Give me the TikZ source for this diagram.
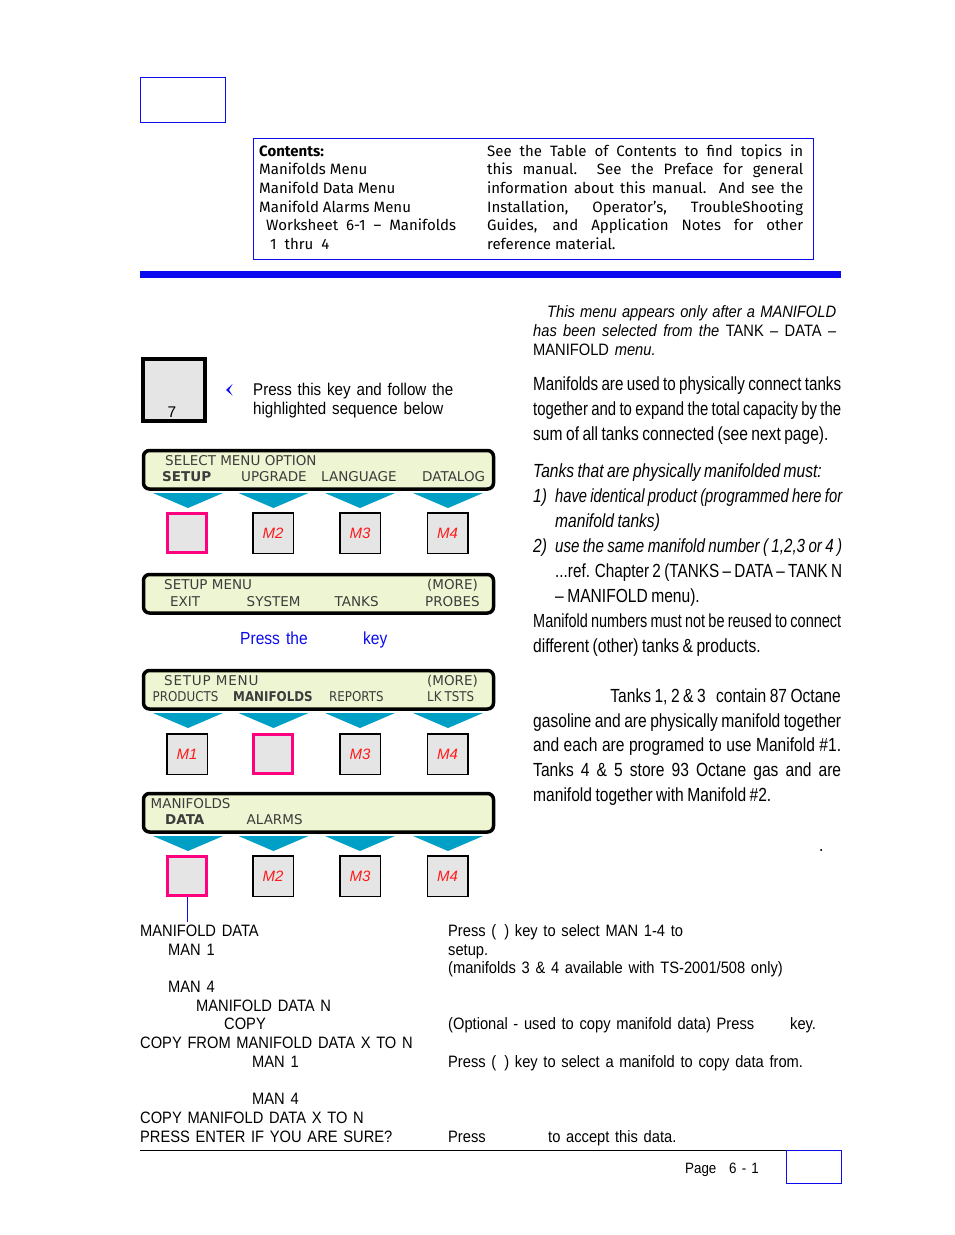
\documentclass[tikz,border=0pt]{standalone}
\usepackage{fontspec}
\setmainfont{Liberation Sans}
\newfontfamily\narrowfont[FakeStretch=0.89,WordSpace=1.4]{Liberation Sans}
\newfontfamily\parafont[FakeStretch=0.82,WordSpace=0.8]{Liberation Sans}
\newfontfamily\lcdfont{DejaVu Sans}
\newfontfamily\lcdnarrow[FakeStretch=0.88]{DejaVu Sans}
\newfontfamily\tocfont{Fira Sans}
\usetikzlibrary{positioning}
\newcommand\pxsize[1]{\fontsize{#1}{#1}\selectfont}
\newcommand\fitline[2]{\resizebox{#1}{\height}{#2}}
\definecolor{pageblue}{HTML}{0B0BEF}
\definecolor{lcdfill}{HTML}{EEF5D2}
\definecolor{lcdtext}{HTML}{3C3C3C}
\definecolor{chevcyan}{HTML}{00A0C6}
\definecolor{keygray}{HTML}{E5E5E5}
\definecolor{hotpink}{HTML}{FF0080}
\definecolor{mred}{HTML}{FF1A1A}
\tikzset{
  lcd/.style={draw=black, line width=3.5pt, rounded corners=6pt, fill=lcdfill,
              minimum width=350pt, minimum height=38.5pt, anchor=north west, inner sep=0pt},
  lcdtxt/.style={anchor=base west, inner sep=0pt, text=lcdtext, font=\lcdfont\pxsize{13.5}},
  keybox/.style={draw=black, line width=1.5pt, fill=keygray, minimum size=40.5pt,
                 inner sep=0pt, text=mred, font=\itshape\pxsize{15}},
  hotkey/.style={keybox, draw=hotpink, line width=3pt, minimum size=39pt},
  chevron/.style={fill=chevcyan},
  toc/.style={anchor=base west, inner sep=0pt, font=\tocfont\pxsize{15}},
  para/.style={anchor=base west, inner sep=0pt, font=\parafont\pxsize{19}},
  parait/.style={para, font=\parafont\itshape\pxsize{19}},
  codetxt/.style={anchor=base west, inner sep=0pt, font=\narrowfont\pxsize{16.5}},
  blueline/.style={draw=pageblue, line width=1pt}
}

\begin{document}
\begin{tikzpicture}[x=1pt, y=-1pt]
  \fill[white] (0,0) rectangle (954,1235);

  % header
  \draw[blueline] (140.5,77.5) rectangle (225,122);
  \draw[blueline] (253.5,138.5) rectangle (813.5,259.5);
  \node[toc, font=\tocfont\bfseries\pxsize{15}] (tochead) at (259,156) {Contents:};
  \foreach \x/\y/\t [count=\i] in {259/174.7/{Manifolds Menu}, 259/193.4/{Manifold Data Menu},
      259/212.1/{Manifold Alarms Menu}, 266/230.8/{Worksheet\ \ 6-1\ \ –\ \ Manifolds},
      270/249.5/{1\ \ thru\ \ 4}}
    \node[toc] (tocl\i) at (\x,\y) {\t};
  \foreach \y/\t [count=\i] in {156/{See the Table of Contents to find topics in},
      174.7/{this manual.\ \ See the Preface for general},
      193.4/{information about this manual.\ \ And see the},
      212.1/{Installation, Operator’s, TroubleShooting},
      230.8/{Guides, and Application Notes for other}}
    \node[toc] (tocr\i) at (487,\y) {\makebox[316pt][s]{\t}};
  \node[toc] (tocr6) at (487,249.5) {reference material.};
  \fill[pageblue] (140,270.5) rectangle (841,277.5);

  % start key
  \node[draw=black, line width=4pt, fill=keygray, minimum size=62pt, inner sep=0pt] (key7) at (174,390) {};
  \node[inner sep=0pt, font=\pxsize{15.5}] (seven) at (172,412) {7};
  \fill[pageblue] (232.5,384) -- (226,390) -- (232.5,395.5) -- (229,390) -- cycle;
  \node[codetxt, font=\narrowfont\pxsize{17}] (hint1) at (253,395) {Press this key and follow the};
  \node[codetxt, font=\narrowfont\pxsize{17}] (hint2) at (253,414) {highlighted sequence below};

  % menu displays
  \node[lcd] (lcd1) at (141.75,448.75) {};
  \node[lcdtxt] (sel) at (165,465) {SELECT MENU OPTION};
  \node[lcdtxt, font=\lcdfont\bfseries\pxsize{13.5}] (sel1) at (162,481) {SETUP};
  \node[lcdtxt] (sel2) at (241,481) {UPGRADE};
  \node[lcdtxt] (sel3) at (321,481) {LANGUAGE};
  \node[lcdtxt] (sel4) at (422,481) {DATALOG};

  \node[lcd] (lcd2) at (141.75,572.75) {};
  \node[lcdtxt] (setup) at (164,589) {SETUP MENU};
  \node[lcdtxt, anchor=base east] (more) at (478,589) {(MORE)};
  \node[lcdtxt] (set1) at (170,606) {EXIT};
  \node[lcdtxt] (set2) at (246.5,606) {SYSTEM};
  \node[lcdtxt] (set3) at (334.5,606) {TANKS};
  \node[lcdtxt] (set4) at (425,606) {PROBES};

  \node[codetxt, text=pageblue, font=\narrowfont\pxsize{17.5}] (pressthe) at (240,644) {Press the};
  \node[codetxt, text=pageblue, font=\narrowfont\pxsize{17.5}] (presskey) at (363,644) {key};

  \node[lcd] (lcd3) at (141.75,668.75) {};
  \node[lcdtxt, font=\lcdfont\addfontfeature{LetterSpace=6}\pxsize{13.5}] (setupb) at (164,685) {SETUP MENU};
  \node[lcdtxt, anchor=base east] (moreb) at (478,685) {(MORE)};
  \node[lcdtxt, font=\lcdnarrow\pxsize{13.5}] (prod1) at (152.5,701) {PRODUCTS};
  \node[lcdtxt, font=\lcdnarrow\bfseries\pxsize{13.5}] (prod2) at (233,701) {MANIFOLDS};
  \node[lcdtxt, font=\lcdnarrow\pxsize{13.5}] (prod3) at (329,701) {REPORTS};
  \node[lcdtxt, font=\lcdnarrow\pxsize{13.5}] (prod4) at (427,701) {LK\hspace{3pt}TSTS};

  \node[lcd] (lcd4) at (141.75,791.75) {};
  \node[lcdtxt] (mani) at (150.5,808) {MANIFOLDS};
  \node[lcdtxt, font=\lcdfont\bfseries\pxsize{13.5}] (mani1) at (165,824) {DATA};
  \node[lcdtxt] (mani2) at (246.5,824) {ALARMS};

  % soft keys under each display
  \foreach \y in {493,713,836}
    \foreach \x in {188,273.5,360,448}
      \fill[chevron] (\x-35,\y) -- (\x+35,\y) -- (\x,\y+15) -- cycle;
  \foreach \n/\x/\y/\sty/\lab in {
      11/187/533/hotkey/{}, 12/273/533/keybox/M2, 13/360/533/keybox/M3, 14/447.5/533/keybox/M4,
      21/187/754/keybox/M1, 22/273/754/hotkey/{}, 23/360/754/keybox/M3, 24/447.5/754/keybox/M4,
      31/187/876/hotkey/{}, 32/273/876/keybox/M2, 33/360/876/keybox/M3, 34/447.5/876/keybox/M4}
    \node[\sty] (k\n) at (\x,\y) {\lab};
  \coordinate (stemend) at (187,922);
  \draw[blueline] (k31.south) -- (stemend);

  % right column
  \node[codetxt, font=\narrowfont\pxsize{16.5}] (note1) at (547,317) {\makebox[289pt][s]{\itshape This menu appears only after a MANIFOLD}};
  \node[codetxt] (note2) at (533,336) {\makebox[303pt][s]{\itshape has been selected from the \upshape TANK – DATA –}};
  \node[codetxt] (note3) at (533,355) {MANIFOLD\ \itshape menu.};

  \node[para] (p1) at (533,390) {\fitline{308pt}{Manifolds are used to physically connect tanks}};
  \node[para] (p2) at (533,415) {\fitline{308pt}{together and to expand the total capacity by the}};
  \node[para] (p3) at (533,440) {sum of all tanks connected (see next page).};
  \node[parait] (m0) at (533,477) {Tanks that are physically manifolded must:};
  \node[parait] (m1n) at (533,502) {1)};
  \node[parait] (m1) at (555,502) {\fitline{287pt}{have identical product (programmed here for}};
  \node[parait] (m1b) at (555,527) {manifold tanks)};
  \node[parait] (m2n) at (533,552) {2)};
  \node[parait] (m2) at (555,552) {\fitline{287pt}{use the same manifold number ( 1,2,3 or 4 )}};
  \node[para] (m2b) at (555,577) {\fitline{287pt}{...ref. Chapter 2 (TANKS – DATA – TANK N}};
  \node[para] (m2c) at (555,602) {– MANIFOLD menu).};
  \node[para] (p4) at (533,627) {\fitline{308pt}{Manifold numbers must not be reused to connect}};
  \node[para] (p5) at (533,652) {different (other) tanks \& products.};

  \node[para, anchor=base east] (ex1) at (841,702) {Tanks 1, 2 \& 3\ \ \ contain 87 Octane};
  \node[para] (ex2) at (533,727) {\fitline{308pt}{gasoline and are physically manifold together}};
  \node[para] (ex3) at (533,751) {\makebox[308pt][s]{and each are programed to use Manifold \#1.}};
  \node[para] (ex4) at (533,776) {\makebox[308pt][s]{Tanks 4 \& 5 store 93 Octane gas and are}};
  \node[para] (ex5) at (533,801) {manifold together with Manifold \#2.};
  \node[para] (dot) at (819,851) {.};

  % menu tree and actions
  \foreach \x/\y/\t [count=\i] in {140/936/{MANIFOLD DATA}, 168/955/{MAN 1}, 168/992/{MAN 4},
      196/1011/{MANIFOLD DATA N}, 224/1029/{COPY}, 140/1048/{COPY FROM MANIFOLD DATA X TO N},
      252/1067/{MAN 1}, 252/1104/{MAN 4}, 140/1123/{COPY MANIFOLD DATA X TO N},
      140/1142/{PRESS ENTER IF YOU ARE SURE?}}
    \node[codetxt] (menu\i) at (\x,\y) {\t};
  \node[codetxt] (act1) at (448,936) {Press (\hspace{8pt}) key to select MAN 1-4 to};
  \node[codetxt] (act1b) at (448,955) {setup.};
  \node[codetxt] (act1c) at (448,973) {(manifolds 3 \& 4 available with TS-2001/508 only)};
  \node[codetxt] (act2) at (448,1029) {(Optional - used to copy manifold data) Press};
  \node[codetxt] (act2k) at (790,1029) {key.};
  \node[codetxt] (act3) at (448,1067) {Press (\hspace{8pt}) key to select a manifold to copy data from.};
  \node[codetxt] (act4) at (448,1142) {Press};
  \node[codetxt] (act4b) at (548,1142) {to accept this data.};

  % footer
  \draw[line width=1.2pt] (140,1150.5) -- (841,1150.5);
  \draw[blueline] (786.5,1150.5) rectangle (841,1183);
  \node[codetxt, font=\narrowfont\pxsize{15}] (pg) at (685,1173) {Page};
  \node[codetxt, font=\narrowfont\pxsize{15}] (pgno) at (729,1173) {6 - 1};
\end{tikzpicture}
\end{document}
